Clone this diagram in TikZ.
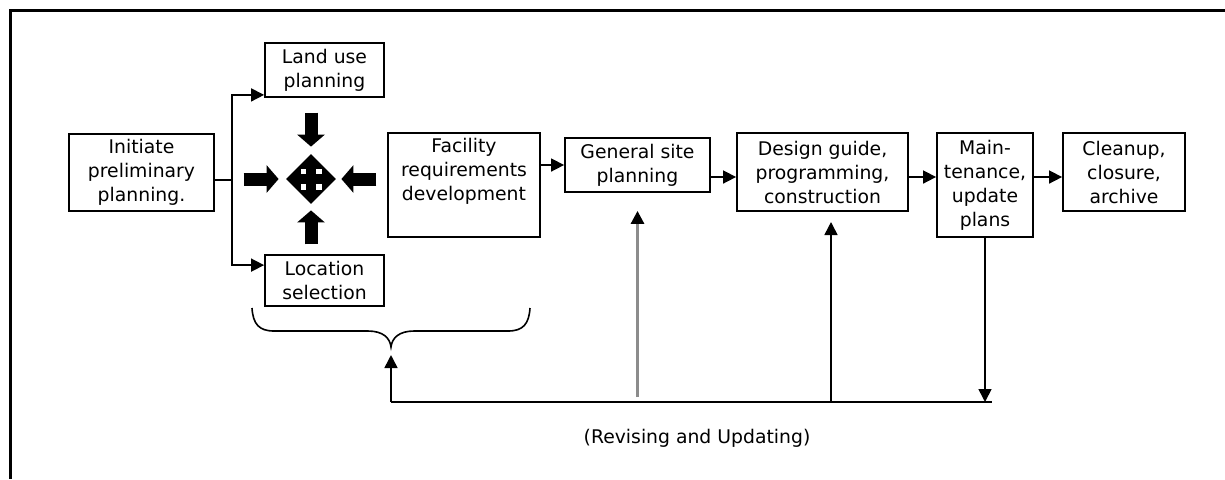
\documentclass[tikz,border=0pt]{standalone}
\usepackage{fontspec}
\setmainfont{DejaVu Sans}
\usetikzlibrary{arrows.meta,positioning,shapes.geometric}

\begin{document}
\begin{tikzpicture}[
  x=0.5pt, y=-0.5pt,
  every node/.style={font=\fontsize{9.4}{12}\selectfont, align=center},
  box/.style={draw, line width=0.9pt, inner sep=0pt},
  arrow/.style={-{Triangle[length=6.5pt,width=6.5pt]}, line width=0.8pt},
  line/.style={line width=0.8pt},
  grayarrow/.style={-{Triangle[length=6.5pt,width=6.5pt,color=black]}, line width=1.4pt, color=black!45},
  bigarrow/.style={-{Triangle[length=6pt,width=13.5pt]}, line width=6.5pt},
  frame/.style={line width=1.6pt}
]
\useasboundingbox (0,0) rectangle (1225,479);
\draw[frame] (1225,10.5) -- (10.5,10.5) -- (10.5,479);

\node[box, minimum width=72.5pt, minimum height=38.5pt] (init) at (141.5,172.5) {Initiate\\preliminary\\planning.};
\node[box, minimum width=59.5pt, minimum height=27pt] (land) at (324.5,70) {Land use\\planning};
\node[box, minimum width=59.5pt, minimum height=25.5pt] (loc) at (324.5,280.5) {Location\\selection};
\node[box, minimum width=76pt, minimum height=52pt] (fac) at (464,185) {Facility\\requirements\\development\\\strut};
\node[box, minimum width=72.5pt, minimum height=27pt] (gen) at (637.5,165) {General site\\planning};
\node[box, minimum width=85.5pt, minimum height=39pt] (des) at (822.5,172) {Design guide,\\programming,\\construction};
\node[box, minimum width=48pt, minimum height=52pt] (mnt) at (985,185) {Main-\\tenance,\\update\\plans};
\node[box, minimum width=61pt, minimum height=39pt] (cln) at (1124,172) {Cleanup,\\closure,\\archive};

\node[diamond, fill=black, minimum width=25pt, minimum height=25pt, inner sep=0pt] (hub) at (311,179) {};
\foreach \sx/\sy in {1/1,1/-1,-1/1,-1/-1}
  \fill[white] ([shift={(5*\sx,5*\sy)}]hub.center) rectangle ([shift={(10.5*\sx,10.5*\sy)}]hub.center);

\draw[bigarrow] ([yshift=20.5pt]hub.north) -- ([yshift=3.5pt]hub.north);
\draw[bigarrow] ([yshift=-20pt]hub.south) -- ([yshift=-3pt]hub.south);
\draw[bigarrow] ([xshift=-21pt]hub.west) -- ([xshift=-3.5pt]hub.west);
\draw[bigarrow] ([xshift=20pt]hub.east) -- ([xshift=2.5pt]hub.east);

\coordinate (split) at (232,180);
\coordinate (row) at (0,177);
\draw[line] (init.east |- split) -- (split);
\draw[arrow] (split) |- ([yshift=1.5pt]land.south west);
\draw[arrow] (split) |- ([yshift=-5.5pt]loc.north west);

\draw[arrow] (fac.east |- gen.west) -- (gen.west);
\draw[arrow] (gen.east |- row) -- (des.west |- row);
\draw[arrow] (des.east |- row) -- (mnt.west |- row);
\draw[arrow] (mnt.east |- row) -- (cln.west |- row);

\coordinate (tip) at (391,347);
\coordinate (loopL) at (391,402);
\coordinate (loopR) at (992,402);
\coordinate (dsIn) at (831,222);
\draw[line] (252,308) .. controls (253,324) and (259,331) .. (274,331) -- (368,331)
  .. controls (383,331) and (390,338) .. (tip)
  .. controls (392,338) and (399,331) .. (414,331) -- (508,331)
  .. controls (523,331) and (529,324) .. (530,308);
\draw[line] (loopL) -- (loopR);
\draw[arrow] (loopL) -- ([yshift=-4pt]tip);
\draw[grayarrow] ([yshift=2.5pt]gen.south |- loopL) -- ([yshift=-9pt]gen.south);
\draw[arrow] (dsIn |- loopL) -- (dsIn);
\draw[arrow] (mnt.south) -- (mnt.south |- loopL);

\node (rev) at (697,438) {(Revising and Updating)};
\end{tikzpicture}
\end{document}
